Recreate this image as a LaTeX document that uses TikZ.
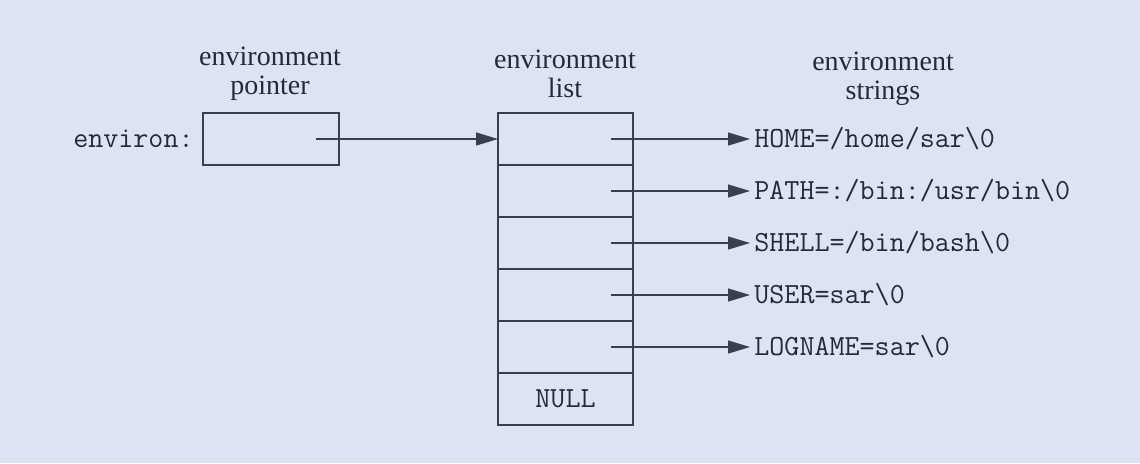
\documentclass[tikz,border=0pt]{standalone}
\usepackage{fontspec}
\setmainfont{Liberation Serif}
\usetikzlibrary{positioning,arrows.meta}

\definecolor{bgcol}{HTML}{DDE3F2}
\definecolor{linecol}{HTML}{3A3F4C}
\definecolor{inkcol}{HTML}{262A33}

\tikzset{
  cell/.style={draw=linecol, line width=0.7pt, minimum width=67.5pt, minimum height=26pt, outer sep=0pt, inner sep=0pt},
  link/.style={draw=linecol, line width=0.6pt, -{Triangle[length=11pt,width=6.5pt]}},
  head/.style={align=center, text=inkcol, font=\fontsize{14}{14.5}\selectfont},
  str/.style={anchor=west, inner sep=2pt, text=inkcol, font=\fontsize{14.6}{17}\selectfont\ttfamily}
}

\begin{document}
\begin{tikzpicture}[x=0.5pt,y=-0.5pt]
\fill[bgcol] (0,0) rectangle (1140,463);
\useasboundingbox (0,0) rectangle (1140,463);

% titles
\node[head] (hptr) at (270,74) {environment\\pointer};
\node[head] (hlist) at (565,74) {environment\\list};
\node[head] (hstr) at (883,79) {environment\\strings};

% pointer variable
\node[cell, minimum width=68pt] (ptr) at (271,139) {};
\node[str, anchor=east] (var) at (198,139) {environ:};

% the list
\node[cell] (l1) at (565.5,139) {};
\node[cell, below=0pt of l1] (l2) {};
\node[cell, below=0pt of l2] (l3) {};
\node[cell, below=0pt of l3] (l4) {};
\node[cell, below=0pt of l4] (l5) {};
\node[cell, below=0pt of l5, font=\fontsize{14.6}{17}\selectfont\ttfamily, text=inkcol] (nul) {NULL};

% the strings
\node[str] (s1) at (750,139) {HOME=/home/sar\textbackslash0};
\node[str] (s2) at (750,191) {PATH=:/bin:/usr/bin\textbackslash0};
\node[str] (s3) at (750,243) {SHELL=/bin/bash\textbackslash0};
\node[str] (s4) at (750,295) {USER=sar\textbackslash0};
\node[str] (s5) at (750,347) {LOGNAME=sar\textbackslash0};

\draw[link] ([xshift=-11.5pt]ptr.east) -- (l1.west);
\foreach \i in {1,...,5}
  \draw[link] ([xshift=-11pt]l\i.east) -- (s\i.west);
\end{tikzpicture}
\end{document}
